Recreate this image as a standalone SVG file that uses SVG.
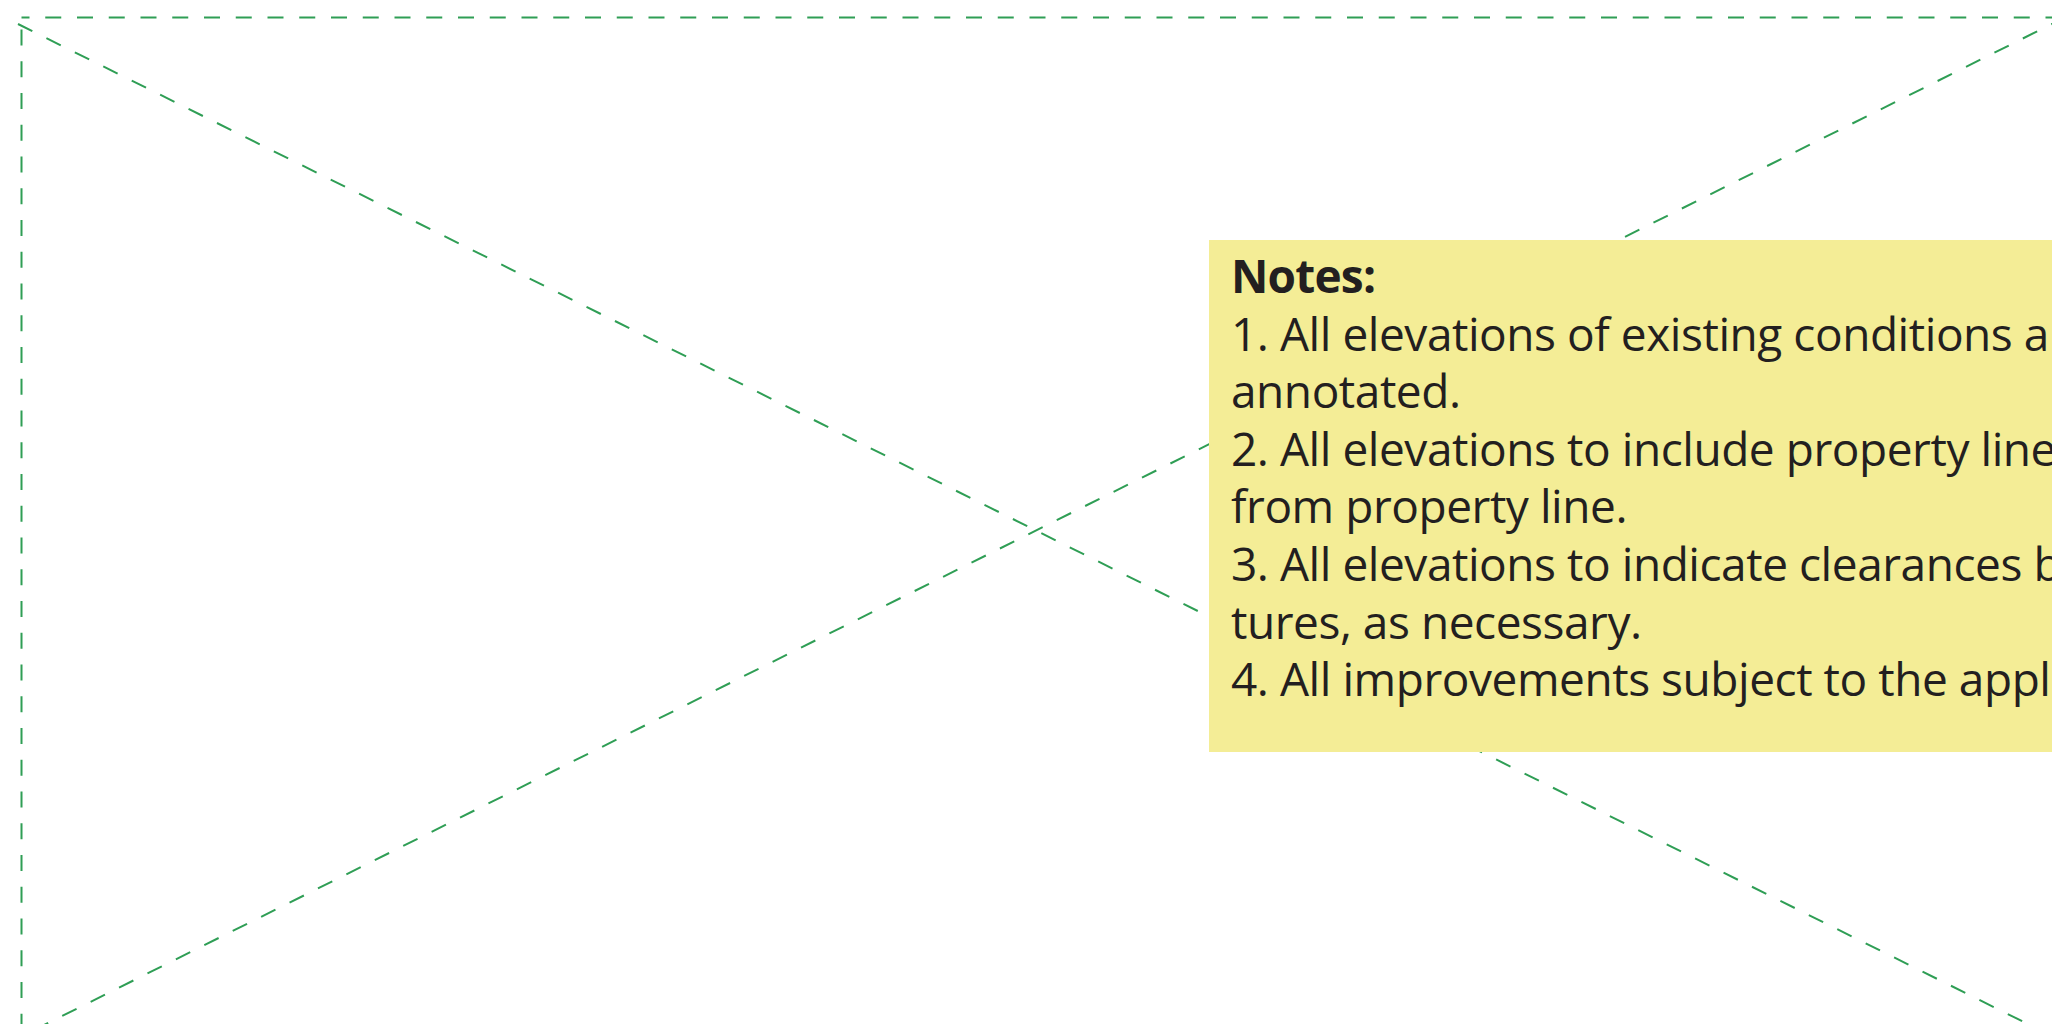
<svg xmlns="http://www.w3.org/2000/svg" width="2052" height="1024" viewBox="0 0 2052 1024">
  <style>
    .frame { fill: none; stroke: #2f9e55; stroke-width: 2; stroke-dasharray: 16 15.75; }
    .note { fill: #f4ed96; }
    .txt { font-family: "Segoe UI", "Open Sans", "Noto Sans", sans-serif; font-size: 46px; fill: #231f20; letter-spacing: -0.45px; }
    .bold { font-weight: bold; letter-spacing: -0.8px; }
  </style>
  <rect width="2052" height="1024" fill="#ffffff"/>
  <g id="frame">
    <rect class="frame" x="21.5" y="17.5" width="2040" height="1018" stroke-dashoffset="8"/>
  </g>
  <g id="connectors">
    <line class="frame" x1="18" y1="24" x2="2062" y2="1041"/>
    <line class="frame" x1="2062" y1="19" x2="18" y2="1038" stroke-dashoffset="4"/>
  </g>
  <g id="notes">
    <rect class="note" x="1209" y="240" width="900" height="512"/>
    <text class="txt bold" x="1231" y="293">Notes:</text>
    <text class="txt" x="1231" y="350.6">1. All elevations of existing conditions a</text>
    <text class="txt" x="1231" y="408.2">annotated.</text>
    <text class="txt" x="1231" y="465.8">2. All elevations to include property line</text>
    <text class="txt" x="1231" y="523.4">from property line.</text>
    <text class="txt" x="1231" y="581">3. All elevations to indicate clearances b</text>
    <text class="txt" x="1231" y="638.6">tures, as necessary.</text>
    <text class="txt" x="1231" y="696.2">4. All improvements subject to the appl</text>
  </g>
</svg>
